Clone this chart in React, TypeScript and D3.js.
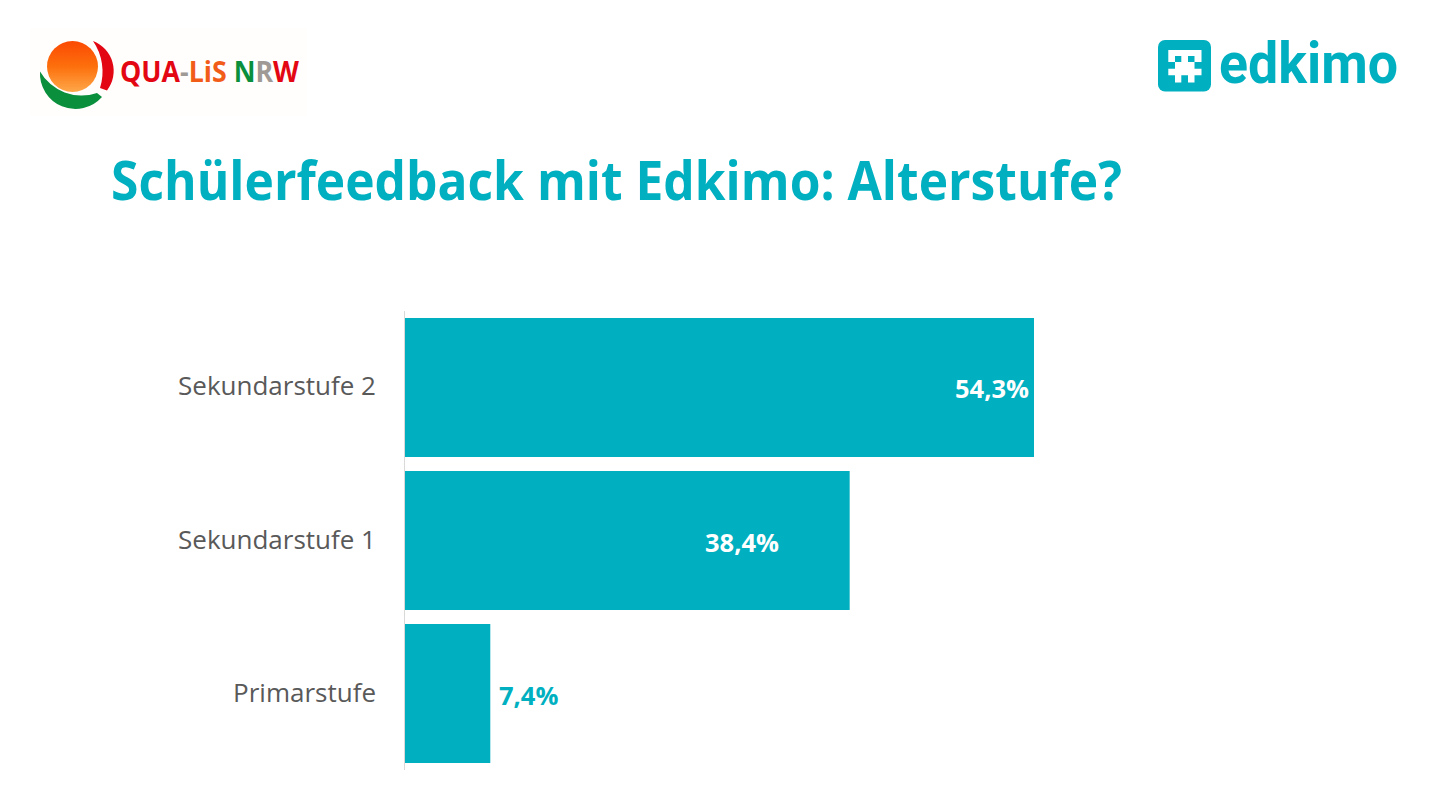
import { useEffect, useRef } from "react";
import * as d3 from "d3";

const categories = ["Sekundarstufe 2", "Sekundarstufe 1", "Primarstufe"];
const values = [54.3, 38.4, 7.4];
const valueLabels = ["54,3%", "38,4%", "7,4%"];

const TEAL = "#00B0C0";
const FONT = "'Open Sans', sans-serif";

const width = 1440;
const height = 810;

const x = d3.scaleLinear().domain([0, 54.3]).range([404.5, 1034]);
const y = d3.scaleBand().domain(categories).range([311, 770]).paddingInner(0.0915).paddingOuter(0.0457);

// label placement per bar, as in the source slide
const labelX = [1029, 779, 499];
const labelAnchor = ["end", "end", "start"];
const labelFill = ["#fff", "#fff", TEAL];

const QualisLogo = () => (
  <g>
    <rect x={30} y={28} width={277} height={88} fill="#FFFEFC" />
    <defs>
      <linearGradient id="sun" x1="0" y1="0" x2="0" y2="1">
        <stop offset="0" stopColor="#FB4A04" />
        <stop offset="0.5" stopColor="#FD6F0C" />
        <stop offset="1" stopColor="#FEA84A" />
      </linearGradient>
    </defs>
    <circle cx={72.5} cy={66.5} r={25.5} fill="url(#sun)" />
    <path d="M93 41 A32 32 0 0 1 107 90.5 L100 88 A54 54 0 0 0 93 41Z" fill="#E30613" />
    <path d="M40 71.5 A35.5 35.5 0 0 0 102 97 L97 93 A48 48 0 0 1 40 71.5Z" fill="#0A8F3C" />
    <text x={120} y={82} fontFamily={FONT} fontWeight={700} fontSize={28} textLength={179} lengthAdjust="spacingAndGlyphs">
      <tspan fill="#E30613">QUA</tspan>
      <tspan fill="#A09A96">-</tspan>
      <tspan fill="#F25C19">LiS </tspan>
      <tspan fill="#0A8F3C">N</tspan>
      <tspan fill="#A09A96">R</tspan>
      <tspan fill="#E30613">W</tspan>
    </text>
  </g>
);

const EdkimoLogo = () => (
  <g>
    <rect x={1158} y={40} width={53} height={51.5} rx={7} fill={TEAL} />
    <path
      d="M1168.3 50H1201.5V62H1194.5V68.7H1201.5V75.3H1194.5V82.5H1188V75.3H1181.3V82.5H1175V75.3H1168.3V68.7H1175V62H1168.3Z"
      fill="#fff"
    />
    <rect x={1175} y={56} width={6.3} height={6} fill={TEAL} />
    <rect x={1188} y={56} width={6.5} height={6} fill={TEAL} />
    <text x={1219} y={82.5} fontFamily="Roboto, sans-serif" fontWeight={700} fontSize={57} fill={TEAL} textLength={179} lengthAdjust="spacingAndGlyphs">
      edkimo
    </text>
  </g>
);

const App = () => {
  const chartRef = useRef<SVGGElement>(null);

  useEffect(() => {
    const g = d3.select(chartRef.current);
    g.selectAll("*").remove();

    g.selectAll("rect.bar")
      .data(values)
      .join("rect")
      .attr("class", "bar")
      .attr("x", x(0))
      .attr("y", (_, i) => y(categories[i]) as number)
      .attr("width", (d) => x(d) - x(0))
      .attr("height", y.bandwidth())
      .attr("fill", TEAL);

    g.append("line")
      .attr("x1", 404.5)
      .attr("x2", 404.5)
      .attr("y1", 311)
      .attr("y2", 770)
      .attr("stroke", "#D9D9D9")
      .attr("stroke-width", 1);

    g.selectAll("text.cat")
      .data(categories)
      .join("text")
      .attr("class", "cat")
      .attr("x", 376)
      .attr("y", (d) => (y(d) as number) + y.bandwidth() / 2 + 8)
      .attr("text-anchor", "end")
      .attr("font-family", FONT)
      .attr("font-size", 26)
      .attr("fill", "#595959")
      .text((d) => d);

    g.selectAll("text.val")
      .data(valueLabels)
      .join("text")
      .attr("class", "val")
      .attr("x", (_, i) => labelX[i])
      .attr("y", (_, i) => (y(categories[i]) as number) + y.bandwidth() / 2 + 11)
      .attr("text-anchor", (_, i) => labelAnchor[i])
      .attr("font-family", FONT)
      .attr("font-weight", 700)
      .attr("font-size", 25.5)
      .attr("fill", (_, i) => labelFill[i])
      .text((d) => d);
  }, []);

  return (
    <svg width={width} height={height} style={{ position: "absolute", left: 0, top: 0, background: "#fff" }}>
      <QualisLogo />
      <EdkimoLogo />
      <text x={111} y={199.5} fontFamily={FONT} fontWeight={700} fontSize={53} fill={TEAL} textLength={1011} lengthAdjust="spacingAndGlyphs">
        Schülerfeedback mit Edkimo: Alterstufe?
      </text>
      <g ref={chartRef} />
    </svg>
  );
};

export default App;
